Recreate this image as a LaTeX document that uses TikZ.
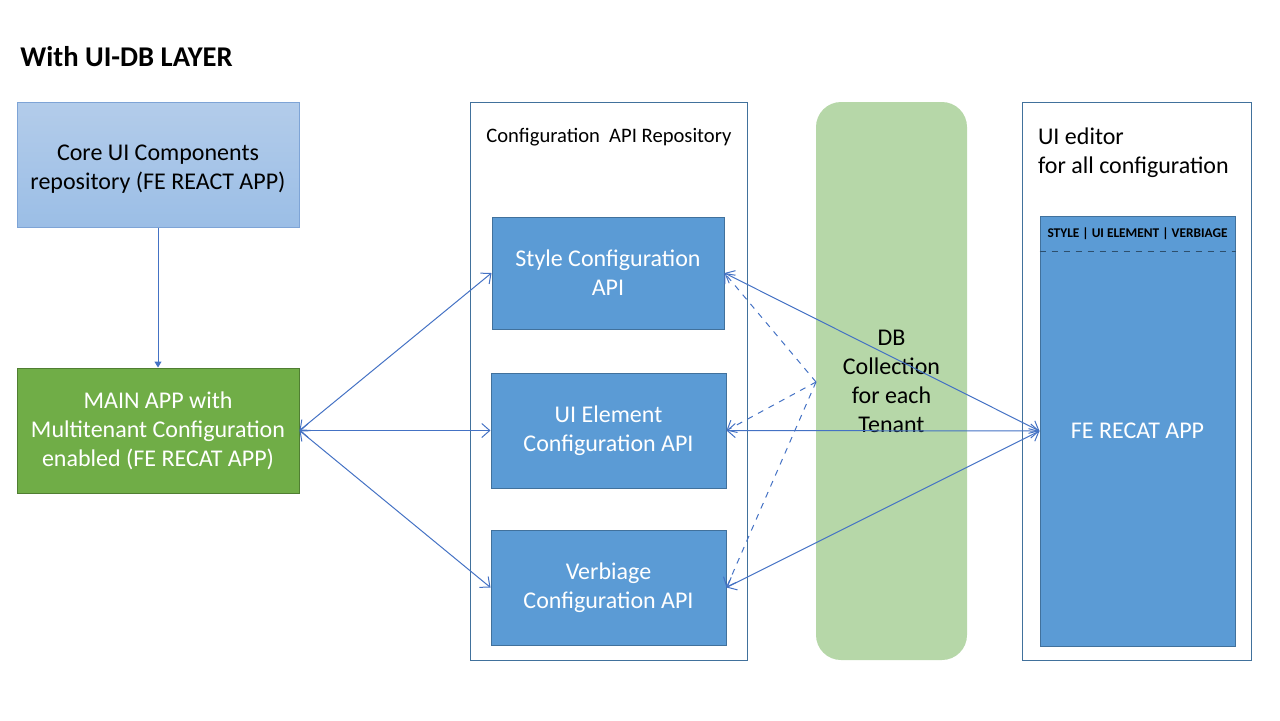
\documentclass[tikz,border=0pt]{standalone}
\usepackage{fontspec}
\setmainfont{Carlito}
\usetikzlibrary{arrows.meta}
\definecolor{boxblue}{HTML}{5B9BD5}
\definecolor{boxedge}{HTML}{41719C}
\definecolor{linkblue}{HTML}{4472C4}
\definecolor{appgreen}{HTML}{70AD47}
\definecolor{appedge}{HTML}{507E32}
\definecolor{dbgreen}{HTML}{B6D7A8}
\definecolor{coretop}{HTML}{B3CCEA}
\definecolor{corebot}{HTML}{9BBEE6}
\definecolor{coreedge}{HTML}{7EA4D6}
\begin{document}
\begin{tikzpicture}[x=0.5pt, y=-0.5pt,
    big/.style={font=\fontsize{12}{14.5}\selectfont, align=center},
    api/.style={draw=boxedge, fill=boxblue, text=white, big, minimum width=117.5pt, minimum height=57.5pt, inner sep=0pt, line width=0.5pt},
    frame/.style={draw=boxedge, line width=0.5pt, minimum height=279pt, inner sep=0pt},
    link/.style={linkblue, line width=0.5pt, {Straight Barb[length=4pt,width=7pt]}-{Straight Barb[length=4pt,width=7pt]}},
    hint/.style={linkblue, line width=0.5pt, dashed, -{Straight Barb[length=4pt,width=7pt]}}]
          \useasboundingbox (0,0) rectangle (1280,720);
          \node[anchor=west, inner sep=0pt, font=\fontsize{14.3}{17}\selectfont\bfseries] (title) at (20,57) {With UI-DB LAYER};
          \node[frame, minimum width=138.5pt] (repo) at (608.5,381) {};
          \node[frame, minimum width=114.5pt] (editor) at (1136.5,381) {};
          \node[fill=dbgreen, rounded corners=12.5pt, minimum width=75.5pt, minimum height=279pt, inner sep=0pt, big] (db) at (891.5,381) {DB\\Collection\\for each\\Tenant};
          \node[anchor=west, inner sep=0pt, font=\fontsize{10.3}{12.4}\selectfont] (repolabel) at (486,137) {Configuration\ \ API Repository};
          \node[anchor=north west, align=left, font=\fontsize{12}{14.5}\selectfont] (editorlabel) at (1031,121) {UI editor\\for all configuration};
          \node[draw=coreedge, top color=coretop, bottom color=corebot, line width=0.5pt, minimum width=141pt, minimum height=62.5pt, inner sep=0pt, big] (core) at (158,164.5) {\rule{0pt}{12pt}Core UI Components\\repository (FE REACT APP)};
          \node[draw=appedge, fill=appgreen, text=white, line width=0.5pt, minimum width=141pt, minimum height=62.5pt, inner sep=0pt, big] (main) at (158,430.5) {MAIN APP with\\Multitenant Configuration\\enabled (FE RECAT APP)};
          \node[api, minimum width=116pt, minimum height=56pt] (style) at (608,273) {Style Configuration\\API};
          \node[api] (element) at (608.5,430.5) {UI Element\\Configuration API};
          \node[api] (verbiage) at (608.5,587.5) {Verbiage\\Configuration API};
          \node[api, minimum width=97.5pt, minimum height=215pt] (fe) at (1137.5,431) {FE RECAT APP};
          \node[font=\fontsize{6.67}{8}\selectfont\bfseries] (tabs) at ([yshift=-9pt]fe.north) {STYLE | UI ELEMENT | VERBIAGE};
          \draw[dashed, boxedge!70!black, line width=0.5pt] ([yshift=-18pt]fe.north west) -- ([yshift=-18pt]fe.north east);
          \coordinate (dbtap) at (816,382);
          \draw[linkblue, line width=0.5pt, -{Triangle[length=3pt,width=3.5pt]}] (core) -- (main);
          \draw[link] (main.east) -- (style.west);
          \draw[link] (main.east) -- (element.west);
          \draw[link] (main.east) -- (verbiage.west);
          \draw[link] (style.east) -- (fe.west);
          \draw[link] (element.east) -- (fe.west);
          \draw[link] (verbiage.east) -- (fe.west);
          \draw[hint] (dbtap) -- (style.east);
          \draw[hint] (dbtap) -- (element.east);
          \draw[hint] (dbtap) -- (verbiage.east);
        \end{tikzpicture}
\end{document}
